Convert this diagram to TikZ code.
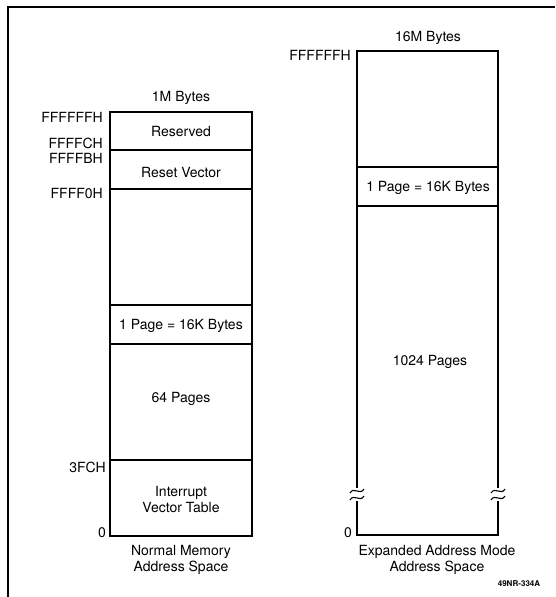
\documentclass[tikz,border=0pt]{standalone}
\usepackage{fontspec}
\setmainfont{TeX Gyre Heros}
\newcommand{\brkmark}[2]{%
  \draw[line width=1.1pt] (#1-7,#2+2) .. controls (#1-3,#2-5) and (#1+3,#2+5) .. (#1+7,#2-2);}
\begin{document}
\begin{tikzpicture}[x=1pt,y=-1pt,
    txt/.style={font=\fontsize{14}{16}\selectfont, inner sep=0pt, align=center},
    addr/.style={txt, anchor=east},
    edge/.style={line width=2.4pt},
    divide/.style={line width=1.1pt}]
  \useasboundingbox (0,0) rectangle (555,597);
  \draw[line width=1.4pt] (8,597) -- (8,7) -- (555,7);

  \draw[edge] (110,112) rectangle (252,536);
  \draw[divide] (110,150) -- (252,150);
  \draw[divide] (110,189) -- (252,189);
  \draw[divide] (110,305) -- (252,305);
  \draw[divide] (110,344) -- (252,344);
  \draw[divide] (110,460) -- (252,460);
  \node[txt] (nsize) at (181,98) {1M Bytes};
  \node[txt] (resv) at (181,131) {Reserved};
  \node[txt] (rvec) at (181,172) {Reset Vector};
  \node[txt] (npage) at (181,326) {1 Page = 16K Bytes};
  \node[txt] (npages) at (181,399) {64 Pages};
  \node[txt] (ivt) at (181,499) {Interrupt\\Vector Table};
  \node[txt] (ncap) at (181,560) {Normal Memory\\Address Space};
  \node[addr] (a1) at (103,117) {FFFFFFH};
  \node[addr] (a2) at (103,143) {FFFFCH};
  \node[addr] (a3) at (103,158) {FFFFBH};
  \node[addr] (a4) at (103,193) {FFFF0H};
  \node[addr] (a5) at (106,467) {3FCH};
  \node[addr] (a6) at (106,533) {0};

  \draw[edge] (357,488) -- (357,51) -- (498,51) -- (498,488);
  \draw[edge] (357,501) -- (357,535) -- (498,535) -- (498,501);
  \draw[divide] (357,167) -- (498,167);
  \draw[divide] (357,206) -- (498,206);
  \brkmark{357}{491}
  \brkmark{357}{498}
  \brkmark{498}{491}
  \brkmark{498}{498}
  \node[txt] (xsize) at (428,38) {16M Bytes};
  \node[txt] (xpage) at (428,188) {1 Page = 16K Bytes};
  \node[txt] (xpages) at (430,362) {1024 Pages};
  \node[txt] (xcap) at (437,560) {Expanded Address Mode\\Address Space};
  \node[addr] (b1) at (351,55) {FFFFFFH};
  \node[addr] (b2) at (352,533) {0};

  \node[txt, font=\bfseries\fontsize{8}{10}\selectfont] (fig) at (519,584) {49NR-334A};
\end{tikzpicture}
\end{document}
